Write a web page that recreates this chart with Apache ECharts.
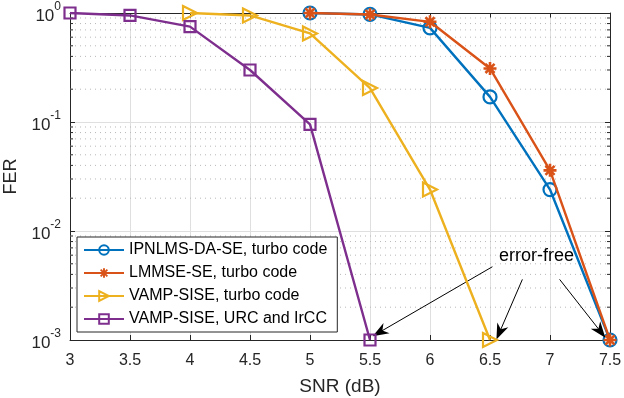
<!DOCTYPE html>
<html lang="en">
<head>
	<meta charset="UTF-8">
	<title>FER vs SNR</title>
	<script src="https://cdn.jsdelivr.net/npm/echarts@6/dist/echarts.min.js"></script>
	<style>
		html, body { margin: 0; padding: 0; background: #fff; }
		#chart { width: 624px; height: 398px; }
	</style>
</head>
<body>
	<div id="chart"></div>

	<script>
		// data
		var snr = [3, 3.5, 4, 4.5, 5, 5.5, 6, 6.5, 7, 7.5];
		var seriesNames = [
			'IPNLMS-DA-SE, turbo code',
			'LMMSE-SE, turbo code',
			'VAMP-SISE, turbo code',
			'VAMP-SISE, URC and IrCC'
		];
		var ipnlms = [null, null, null, null, 1.0, 0.97, 0.73, 0.17, 0.024, 0.001];
		var lmmse = [null, null, null, null, 1.0, 0.97, 0.83, 0.31, 0.036, 0.001];
		var vampTurbo = [null, null, 1.0, 0.95, 0.65, 0.205, 0.024, 0.001, null, null];
		var vampUrc = [1.0, 0.95, 0.75, 0.30, 0.095, 0.001, null, null, null, null];
		var yTicks = [0.001, 0.01, 0.1, 1];
		var yExp = ['-3', '-2', '-1', '0'];
		// minor grid values (2..9 per decade)
		var minorVals = [];
		[0.001, 0.01, 0.1].forEach(function (d) {
			for (var k = 2; k <= 9; k++) minorVals.push(+(d * k).toPrecision(3));
		});
		// "error-free" arrows: [from, to] in data coords
		var arrows = [
			[[6.52, 0.0047], [5.58, 0.00118]],
			[[6.77, 0.0036], [6.58, 0.00118]],
			[[7.08, 0.0036], [7.42, 0.0012]]
		];

		var colors = ['#0072BD', '#D95319', '#EDB120', '#7E2F8E'];
		var asterisk = 'path://M0,4 L10,4 L10,6 L0,6 Z M4,0 L6,0 L6,10 L4,10 Z M2.2,0.8 L9.2,7.8 L7.8,9.2 L0.8,2.2 Z M7.8,0.8 L9.2,2.2 L2.2,9.2 L0.8,7.8 Z';
		var rightTri = 'path://M0,0 L10,5 L0,10 Z';
		var arrowHead = 'path://M5,0 L10,10 L5,7 L0,10 Z';
		var font = 'Liberation Sans';
		var ink = '#262626';

		function pairs(arr) {
			var out = [];
			arr.forEach(function (v, i) { if (v != null) out.push([snr[i], v]); });
			return out;
		}

		function lineSeries(i, data, symbol, size, filled) {
			return {
				name: seriesNames[i],
				type: 'line',
				data: pairs(data),
				symbol: symbol,
				symbolSize: size,
				showAllSymbol: true,
				lineStyle: { color: colors[i], width: 2.4 },
				itemStyle: filled
					? { color: colors[i], borderWidth: 0 }
					: { color: 'rgba(255,255,255,0)', borderColor: colors[i], borderWidth: 2.2 },
				emphasis: { disabled: true },
				z: 3 + i
			};
		}

		var chart = echarts.init(document.getElementById('chart'), null, { renderer: 'canvas' });

		var option = {
			animation: false,
			backgroundColor: '#fff',
			textStyle: { fontFamily: font },
			grid: { left: 70, right: 14, top: 13, bottom: 58, containLabel: false, outerBoundsMode: 'none' },
			xAxis: [{
				type: 'value', min: 3, max: 7.5, interval: 0.5,
				name: 'SNR (dB)', nameLocation: 'middle', nameGap: 37,
				nameTextStyle: { fontSize: 19, color: ink, fontFamily: font },
				axisLine: { onZero: false, lineStyle: { color: ink, width: 1 } },
				axisTick: { inside: true, length: 5, lineStyle: { color: ink } },
				axisLabel: { fontSize: 16, color: ink, margin: 13, fontFamily: font },
				splitLine: { show: true, lineStyle: { color: '#dfdfdf', width: 1 } }
			}, {
				type: 'value', min: 3, max: 7.5, interval: 0.5, position: 'top',
				axisLine: { onZero: false, lineStyle: { color: ink, width: 1 } },
				axisTick: { inside: true, length: 5, lineStyle: { color: ink } },
				axisLabel: { show: false }, splitLine: { show: false }
			}],
			yAxis: [{
				type: 'log', logBase: 10, min: 0.001, max: 1,
				name: 'FER', nameLocation: 'middle', nameGap: 44, nameRotate: 90,
				nameTextStyle: { fontSize: 18, color: ink, fontFamily: font },
				axisLine: { lineStyle: { color: ink, width: 1 } },
				axisTick: { inside: true, length: 5, lineStyle: { color: ink } },
				axisLabel: {
					margin: 9, color: ink,
					formatter: function (v) {
						var i = yTicks.findIndex(function (t) { return Math.abs(Math.log10(t) - Math.log10(v)) < 1e-6; });
						return i < 0 ? '' : '{b|10}{s|' + yExp[i] + '}';
					},
					rich: {
						b: { fontSize: 17, fontFamily: font, color: ink, lineHeight: 24, verticalAlign: 'bottom' },
						s: { fontSize: 12, fontFamily: font, color: ink, lineHeight: 24, verticalAlign: 'top' }
					}
				},
				splitLine: { show: true, lineStyle: { color: '#dfdfdf', width: 1 } }
			}, {
				type: 'log', logBase: 10, min: 0.001, max: 1, position: 'right',
				axisLine: { lineStyle: { color: ink, width: 1 } },
				axisTick: { inside: true, length: 5, lineStyle: { color: ink } },
				axisLabel: { show: false }, splitLine: { show: false }
			}],
			legend: {
				orient: 'vertical', left: 77, top: 237,
				itemWidth: 40, itemHeight: 12, itemGap: 7,
				padding: [5, 10, 5, 6],
				backgroundColor: '#fff', borderColor: ink, borderWidth: 1,
				textStyle: { fontSize: 16, color: '#000', fontFamily: font },
				data: seriesNames
			},
			graphic: [{
				type: 'text', left: 499, top: 247, z: 10,
				style: { text: 'error-free', fontSize: 18, fill: '#000', fontFamily: font }
			}],
			series: [
				{
					// minor log grid (dotted) and minor ticks on both sides
					type: 'custom', silent: true, z: 1,
					data: minorVals.map(function (v) { return [v]; }),
					renderItem: function (params, api) {
						var v = api.value(0);
						var a = api.coord([3, v]), b = api.coord([7.5, v]);
						return {
							type: 'group',
							children: [
								{ type: 'line', shape: { x1: a[0], y1: a[1], x2: b[0], y2: b[1] },
									style: { stroke: '#b8b8b8', lineWidth: 1, lineDash: [1, 4] } },
								{ type: 'line', shape: { x1: a[0], y1: a[1], x2: a[0] + 3, y2: a[1] },
									style: { stroke: ink, lineWidth: 1 } },
								{ type: 'line', shape: { x1: b[0] - 3, y1: b[1], x2: b[0], y2: b[1] },
									style: { stroke: ink, lineWidth: 1 } }
							]
						};
					},
					encode: { x: -1, y: 0 }
				},
				lineSeries(0, ipnlms, 'circle', 13, false),
				lineSeries(1, lmmse, asterisk, 13, true),
				lineSeries(2, vampTurbo, rightTri, 14, false),
				lineSeries(3, vampUrc, 'rect', 11, false),
				{
					// annotation arrows
					type: 'line', data: [], silent: true,
					markLine: {
						silent: true, animation: false,
						symbol: ['none', arrowHead], symbolSize: [12, 16],
						label: { show: false },
						lineStyle: { color: '#000', width: 1, type: 'solid' },
						emphasis: { disabled: true },
						data: arrows.map(function (a) { return [{ coord: a[0] }, { coord: a[1] }]; })
					},
					z: 8
				}
			]
		};
		chart.setOption(option);
	</script>
</body>
</html>
